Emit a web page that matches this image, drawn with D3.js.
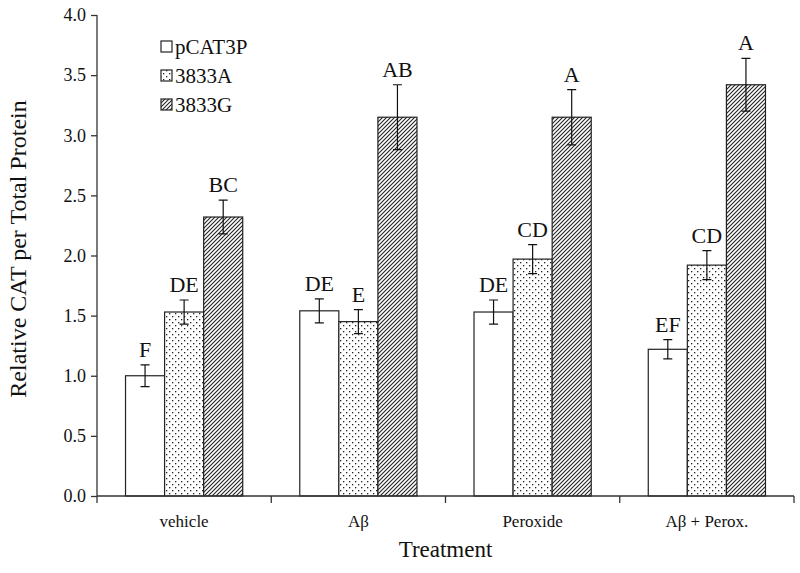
<!DOCTYPE html>
<html><head><meta charset="utf-8">
<script src="https://cdn.jsdelivr.net/npm/d3@7"></script>
<style>body{margin:0;background:#fff}svg{display:block}</style>
</head><body><svg id="c" width="800" height="573"></svg>
<script>
const categories = ["vehicle", "A\u03b2", "Peroxide", "A\u03b2 + Perox."];
const seriesNames = ["pCAT3P", "3833A", "3833G"];
const pCAT3P = [1.00, 1.54, 1.53, 1.22];
const s3833A = [1.53, 1.45, 1.97, 1.92];
const s3833G = [2.32, 3.15, 3.15, 3.42];
const errPCAT3P = [0.09, 0.10, 0.10, 0.08];
const err3833A = [0.10, 0.10, 0.12, 0.12];
const err3833G = [0.14, 0.27, 0.23, 0.22];
const lettersPCAT3P = ["F", "DE", "DE", "EF"];
const letters3833A = ["DE", "E", "CD", "CD"];
const letters3833G = ["BC", "AB", "A", "A"];
const yTicks = [0, 0.5, 1, 1.5, 2, 2.5, 3, 3.5, 4];

const values = [pCAT3P, s3833A, s3833G];
const errs = [errPCAT3P, err3833A, err3833G];
const letters = [lettersPCAT3P, letters3833A, letters3833G];

const svg = d3.select("#c");
const font = "'Liberation Serif', 'Times New Roman', serif";
const m = {left: 97, right: 794, top: 15, bottom: 496};

const defs = svg.append("defs");
const dots = defs.append("pattern").attr("id","dots").attr("patternUnits","userSpaceOnUse")
  .attr("width",6).attr("height",6);
dots.append("rect").attr("width",6).attr("height",6).attr("fill","#fff");
dots.append("rect").attr("x",1).attr("y",1).attr("width",1.3).attr("height",1.3).attr("fill","#222");
dots.append("rect").attr("x",4).attr("y",4).attr("width",1.3).attr("height",1.3).attr("fill","#222");
const hatch = defs.append("pattern").attr("id","hatch").attr("patternUnits","userSpaceOnUse")
  .attr("width",4).attr("height",4);
hatch.append("rect").attr("width",4).attr("height",4).attr("fill","#fff");
hatch.append("path").attr("d","M-1,1 L1,-1 M0,4 L4,0 M3,5 L5,3").attr("stroke","#222").attr("stroke-width",1.1);
const fills = ["#fff","url(#dots)","url(#hatch)"];

const x0 = d3.scaleBand().domain(categories).range([m.left, m.right]).paddingInner(0).paddingOuter(0);
// three bars of 39px centred in each 174px category
const x1 = d3.scaleBand().domain(seriesNames).range([0, x0.bandwidth()]).paddingInner(0).paddingOuter(0.73);
const y = d3.scaleLinear().domain([0,4]).range([m.bottom, m.top]);

const g = svg.append("g");
seriesNames.forEach((s, si) => {
  categories.forEach((c, ci) => {
    const v = values[si][ci], e = errs[si][ci];
    const bx = x0(c) + x1(s), bw = x1.bandwidth();
    g.append("rect").attr("x", bx).attr("y", y(v)).attr("width", bw).attr("height", y(0)-y(v))
      .attr("fill", fills[si]).attr("stroke","#222").attr("stroke-width",1.2);
    const cx = bx + bw/2;
    g.append("path").attr("d", `M${cx-4.5},${y(v+e)}H${cx+4.5}M${cx},${y(v+e)}V${y(v-e)}M${cx-4.5},${y(v-e)}H${cx+4.5}`)
      .attr("stroke","#111").attr("stroke-width",1.2).attr("fill","none");
    g.append("text").attr("x", cx).attr("y", y(v+e)-8).attr("text-anchor","middle")
      .attr("font-family", font).attr("font-size", 22).attr("fill","#111").text(letters[si][ci]);
  });
});

// y axis
const ya = svg.append("g").attr("transform", `translate(${m.left},0)`)
  .call(d3.axisLeft(y).tickValues(yTicks).tickFormat(d3.format(".1f")).tickSize(6).tickSizeOuter(0));
ya.select(".domain").attr("stroke","#333").attr("stroke-width",1.3).attr("d", `M0,${m.top}V${m.bottom}`);
ya.selectAll(".tick line").attr("stroke","#333").attr("stroke-width",1.3);
ya.selectAll("text").attr("font-family", font).attr("font-size", 18).attr("fill","#111").attr("x",-11);

// x axis
const xa = svg.append("g").attr("transform", `translate(0,${m.bottom})`);
xa.append("line").attr("x1", m.left).attr("x2", m.right).attr("stroke","#333").attr("stroke-width",1.3);
const bounds = categories.map(c => x0(c)).concat([m.right]);
xa.selectAll(".xt").data(bounds).enter().append("line")
  .attr("x1", d=>d).attr("x2", d=>d).attr("y1",0).attr("y2",7).attr("stroke","#333").attr("stroke-width",1.3);
xa.selectAll(".xl").data(categories).enter().append("text")
  .attr("x", d => x0(d) + x0.bandwidth()/2).attr("y", 31).attr("text-anchor","middle")
  .attr("font-family", font).attr("font-size", 17).attr("fill","#111").text(d=>d);

svg.append("text").attr("x", (m.left+m.right)/2).attr("y", 557).attr("text-anchor","middle")
  .attr("font-family", font).attr("font-size", 23).attr("fill","#111").text("Treatment");
svg.append("text").attr("transform", `translate(26,249) rotate(-90)`).attr("text-anchor","middle")
  .attr("font-family", font).attr("font-size", 24).attr("fill","#111").text("Relative CAT per Total Protein");

// legend
const leg = svg.append("g");
seriesNames.forEach((s, i) => {
  const ly = 54 + i*29;
  leg.append("rect").attr("x",161).attr("y",ly-13).attr("width",11).attr("height",11)
    .attr("fill", fills[i]).attr("stroke","#222").attr("stroke-width",1.2);
  leg.append("text").attr("x",175).attr("y",ly).attr("font-family", font).attr("font-size",21)
    .attr("fill","#111").text(s);
});
</script></body></html>
